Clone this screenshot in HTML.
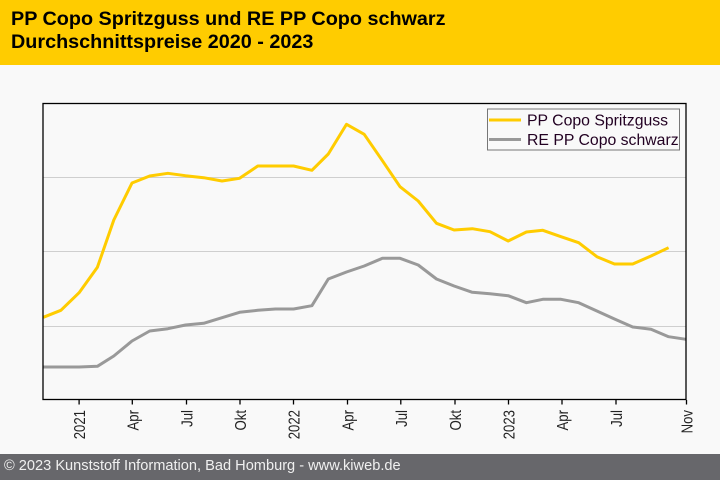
<!DOCTYPE html>
<html><head><meta charset="utf-8"><style>
html,body{margin:0;padding:0;width:720px;height:480px;overflow:hidden;background:#f9f9f9;}
.hdr{position:absolute;left:0;top:0;width:720px;height:65px;background:#ffcc00;}
.t{position:absolute;left:11px;font-family:"Liberation Sans",Arial,sans-serif;font-weight:bold;font-size:19.8px;color:#000;white-space:nowrap;line-height:1;}
.ftr{position:absolute;left:0;top:454px;width:720px;height:26px;background:#67676b;}
.ft{position:absolute;left:4px;top:459px;font-family:"Liberation Sans",Arial,sans-serif;font-size:14.6px;color:#f0f0f0;white-space:nowrap;line-height:1;}
svg{position:absolute;left:0;top:0;}
</style></head><body>
<div class="hdr"></div>
<div class="t" style="top:10px">PP Copo Spritzguss und RE PP Copo schwarz</div>
<div class="t" style="top:33px">Durchschnittspreise 2020 - 2023</div>
<svg width="720" height="480" viewBox="0 0 720 480" xmlns="http://www.w3.org/2000/svg">
<g stroke="#cfcfcf" stroke-width="1">
<line x1="43" y1="177.5" x2="686" y2="177.5"/>
<line x1="43" y1="251.5" x2="686" y2="251.5"/>
<line x1="43" y1="326.5" x2="686" y2="326.5"/>
</g>
<polyline fill="none" stroke="#999999" stroke-width="3" stroke-linejoin="round" points="43.3,367 60.9,367 79.1,367 97.4,366.3 113.8,356 132,341 149.7,331 167.9,328.7 185.5,325 203.7,323.3 222,317.7 239.6,312.3 257.8,310.3 275.4,309 293.6,309 311.9,305.7 328.3,279 346.5,272 364.2,266 382.4,258.3 400,258.3 418.2,265 436.5,279 454.1,286 472.3,292.3 490,293.7 508.2,295.7 526.4,302.7 542.8,299.3 561,299.3 578.7,302.7 596.9,311 614.5,319 632.7,327 651,329.3 668.6,336.7 686,339.3"/>
<polyline fill="none" stroke="#ffcc00" stroke-width="3" stroke-linejoin="round" points="43.3,317.3 60.9,310.3 79.1,292.7 97.4,267.3 113.8,220 132,183 149.7,176 167.9,173.3 185.5,175.7 203.7,177.7 222,181 239.6,178.3 257.8,166 275.4,166 293.6,166 311.9,170.3 328.3,154 346.5,124.3 364.2,134.3 382.4,160.7 400,186.7 418.2,201 436.5,223.3 454.1,230 472.3,228.7 490,231.7 508.2,241 526.4,232 542.8,230.3 561,236.7 578.7,242.7 596.9,256.7 614.5,264 632.7,264 651,256 668.6,247.7"/>
<rect x="43" y="103.5" width="643" height="296" fill="none" stroke="#000" stroke-width="1.3"/>
<g stroke="#000" stroke-width="1.3">
<line x1="79.1" y1="400" x2="79.1" y2="404.5"/>
<line x1="132.3" y1="400" x2="132.3" y2="404.5"/>
<line x1="186.5" y1="400" x2="186.5" y2="404.5"/>
<line x1="240" y1="400" x2="240" y2="404.5"/>
<line x1="293.5" y1="400" x2="293.5" y2="404.5"/>
<line x1="347.5" y1="400" x2="347.5" y2="404.5"/>
<line x1="400.8" y1="400" x2="400.8" y2="404.5"/>
<line x1="455" y1="400" x2="455" y2="404.5"/>
<line x1="508.5" y1="400" x2="508.5" y2="404.5"/>
<line x1="562" y1="400" x2="562" y2="404.5"/>
<line x1="616" y1="400" x2="616" y2="404.5"/>
<line x1="686.5" y1="400" x2="686.5" y2="404.5"/>
</g>
<g font-family="Liberation Sans, Arial, sans-serif" font-size="15.5" fill="#222" text-anchor="end">
<text transform="translate(85.2,410) rotate(-90) scale(0.85,1)">2021</text>
<text transform="translate(138.4,410) rotate(-90) scale(0.85,1)">Apr</text>
<text transform="translate(192.6,410) rotate(-90) scale(0.85,1)">Jul</text>
<text transform="translate(246.1,410) rotate(-90) scale(0.85,1)">Okt</text>
<text transform="translate(299.6,410) rotate(-90) scale(0.85,1)">2022</text>
<text transform="translate(353.6,410) rotate(-90) scale(0.85,1)">Apr</text>
<text transform="translate(406.9,410) rotate(-90) scale(0.85,1)">Jul</text>
<text transform="translate(461.1,410) rotate(-90) scale(0.85,1)">Okt</text>
<text transform="translate(514.6,410) rotate(-90) scale(0.85,1)">2023</text>
<text transform="translate(568.1,410) rotate(-90) scale(0.85,1)">Apr</text>
<text transform="translate(622.1,410) rotate(-90) scale(0.85,1)">Jul</text>
<text transform="translate(692.6,410) rotate(-90) scale(0.85,1)">Nov</text>
</g>
<rect x="487.5" y="109" width="192" height="41" fill="#f9f9f9" stroke="#777" stroke-width="1"/>
<line x1="489" y1="120" x2="521" y2="120" stroke="#ffcc00" stroke-width="3"/>
<line x1="489" y1="139.5" x2="521" y2="139.5" stroke="#999999" stroke-width="3"/>
<g font-family="Liberation Sans, Arial, sans-serif" font-size="15.8" fill="#220022">
<text x="527" y="125.7">PP Copo Spritzguss</text>
<text x="527" y="145">RE PP Copo schwarz</text>
</g>
</svg>
<div class="ftr"></div>
<div class="ft">© 2023 Kunststoff Information, Bad Homburg - www.kiweb.de</div>
</body></html>
